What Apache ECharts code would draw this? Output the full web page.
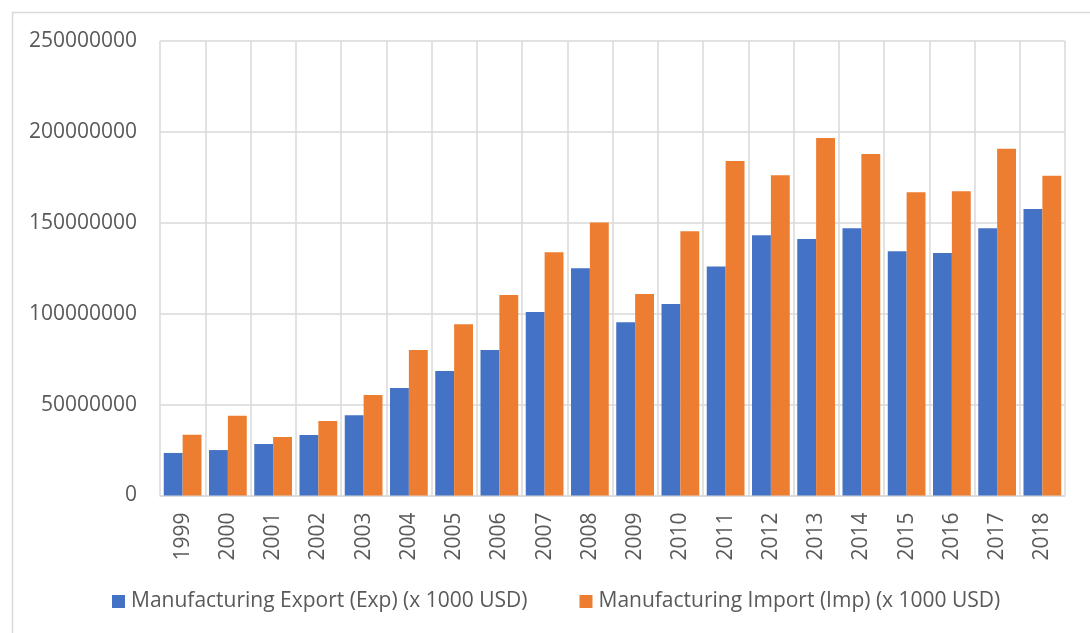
<!DOCTYPE html>
<html>
<head>
<meta charset="utf-8">
<script src="https://cdn.jsdelivr.net/npm/echarts@6/dist/echarts.min.js"></script>
<style>
html,body{margin:0;padding:0;background:#fff;}
#chart{width:1090px;height:633px;}
</style>
</head>
<body>
<div id="chart"></div>
<script>
const years = ['1999','2000','2001','2002','2003','2004','2005','2006','2007','2008','2009','2010','2011','2012','2013','2014','2015','2016','2017','2018'];
const exportValues = [23400000,25000000,28300000,33300000,44100000,59100000,68500000,80000000,100900000,125000000,95300000,105300000,125900000,143100000,141100000,147000000,134300000,133400000,147000000,157600000];
const importValues = [33400000,43900000,32200000,41000000,55300000,80000000,94200000,110300000,133800000,150100000,110800000,145300000,184000000,176100000,196600000,187800000,166800000,167300000,190800000,175900000];
const seriesNames = ['Manufacturing Export (Exp) (x 1000 USD)','Manufacturing Import (Imp) (x 1000 USD)'];
const yTicks = {min:0, max:250000000, interval:50000000};

const FONT = 'Open Sans';
const TXT = '#595959';
const GRID = '#d9d9d9';

const chart = echarts.init(document.getElementById('chart'), null, {renderer:'canvas'});
chart.setOption({
  animation:false,
  backgroundColor:'#fff',
  textStyle:{fontFamily:FONT},
  graphic:[{
    type:'rect', left:10, top:10, silent:true, z:-10,
    shape:{width:1100, height:650},
    style:{fill:'none', stroke:GRID, lineWidth:1.5}
  }],
  grid:{left:160, right:25, top:41, bottom:137.5, containLabel:false},
  legend:{
    left:112, top:591, padding:0, itemWidth:13, itemHeight:13, itemGap:52,
    icon:'rect',
    textStyle:{fontFamily:FONT, fontSize:21, color:TXT, padding:[0,0,0,1]},
    data:seriesNames
  },
  xAxis:{
    type:'category', data:years, boundaryGap:true,
    axisLine:{show:true, lineStyle:{color:GRID, width:1.5}},
    axisTick:{show:false},
    splitLine:{show:true, lineStyle:{color:GRID, width:1.5}},
    axisLabel:{rotate:90, margin:17, fontFamily:FONT, fontSize:21, color:TXT, interval:0}
  },
  yAxis:{
    type:'value', min:yTicks.min, max:yTicks.max, interval:yTicks.interval,
    axisLine:{show:false}, axisTick:{show:false},
    splitLine:{show:true, lineStyle:{color:GRID, width:1.5}},
    axisLabel:{margin:23, fontFamily:FONT, fontSize:21, color:TXT, formatter:v=>String(v)}
  },
  series:[
    {name:seriesNames[0], type:'bar', data:exportValues, barGap:'0%', barCategoryGap:'16.6%',
     itemStyle:{color:'#4472C4'}},
    {name:seriesNames[1], type:'bar', data:importValues, barGap:'0%', barCategoryGap:'16.6%',
     itemStyle:{color:'#ED7D31'}}
  ]
});
</script>
</body>
</html>
